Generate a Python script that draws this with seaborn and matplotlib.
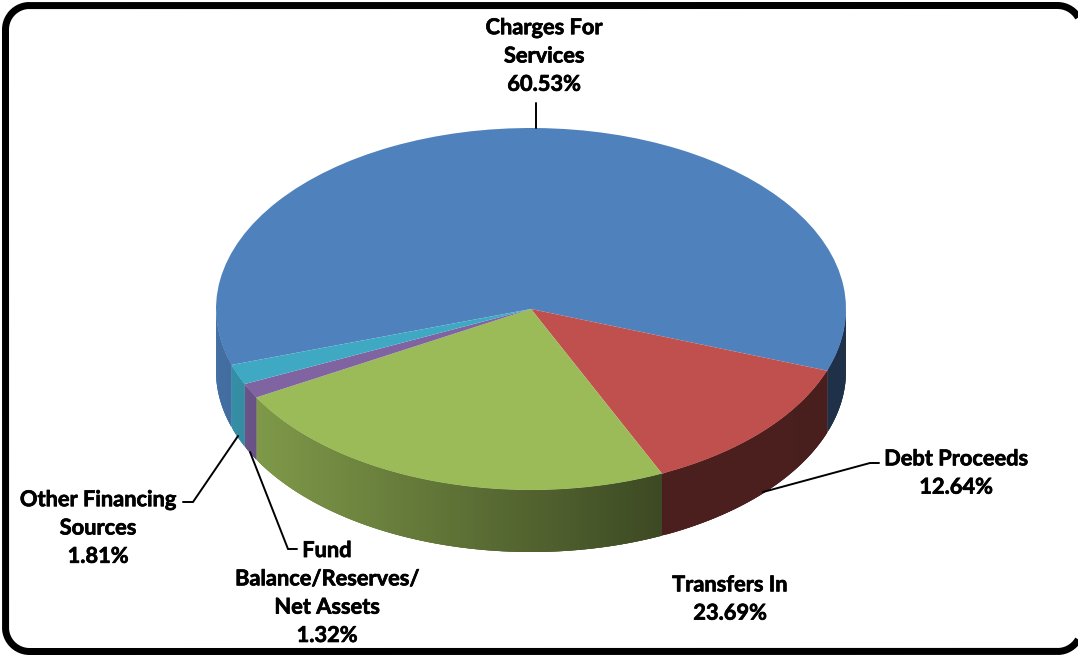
import numpy as np
import matplotlib
matplotlib.use("Agg")
import matplotlib.pyplot as plt
import matplotlib.patheffects as pe
from matplotlib.collections import PolyCollection
import seaborn as sns

categories = ["Charges For\nServices", "Debt Proceeds", "Transfers In",
              "Fund\nBalance/Reserves/\nNet Assets", "Other Financing\nSources"]
shares = [60.53, 12.64, 23.69, 1.32, 1.81]
slice_colors = ["#4F81BD", "#C0504D", "#9BBB59", "#8064A2", "#3FA9C4"]

label_pos = [(544, 56), (956, 473), (730, 599), (327, 593), (98, 528)]
leaders = [[(536, 128), (536, 103)],
           [(763, 492), (870, 463), (879, 463)],
           [],
           [(250, 452), (288, 549), (297, 549)],
           [(238, 436), (193, 502), (183, 502)]]

W, H = 1078, 655
CX, CY, RX, RY, DEPTH = 531, 309, 315, 181, 62

sns.set_theme(style="white")
plt.rcParams["font.family"] = ["Lato", "DejaVu Sans"]
palette = sns.color_palette(slice_colors)

fig = plt.figure(figsize=(W / 100, H / 100), dpi=100, facecolor="white")
ax = fig.add_axes([0, 0, 1, 1])
wedges, _ = ax.pie(shares, colors=palette, startangle=198, counterclock=False,
                   radius=1, wedgeprops=dict(linewidth=0, zorder=5))
ax.set_aspect("auto")
ax.set_xlim(-CX / RX, (W - CX) / RX)
ax.set_ylim(-(H - CY) / RY, CY / RY)
ax.axis("off")

# extruded rim of the pie, shaded left to right (overlapping strips avoid seams)
d = DEPTH / RY
for w, col in zip(wedges, palette):
    t1, t2 = w.theta1 % 360, w.theta2 % 360
    if t2 <= t1:
        t2 += 360
    polys, faces = [], []
    for base in (0, 360):
        a, b = max(t1, 180 + base), min(t2, 360 + base)
        if b <= a:
            continue
        th = np.radians(np.linspace(a, b, max(2, int((b - a) * 2) + 1)))
        for i in range(len(th) - 1):
            p, q = th[i], th[min(i + 3, len(th) - 1)]
            x0, y0, x1, y1 = np.cos(p), np.sin(p), np.cos(q), np.sin(q)
            polys.append([(x0, y0), (x1, y1), (x1, y1 - d), (x0, y0 - d)])
            f = np.interp((x0 + np.cos(th[i + 1])) / 2, [-1, 0.42, 1], [0.86, 0.39, 0.38])
            faces.append(tuple(np.array(col) * f))
    if polys:
        ax.add_collection(PolyCollection(polys, facecolors=faces, edgecolors="none",
                                         linewidths=0, zorder=2))

# overlay in image coordinates: frame, labels, leader lines
ov = fig.add_axes([0, 0, 1, 1], facecolor="none")
ov.set_xlim(0, W)
ov.set_ylim(H, 0)
ov.axis("off")

L, T, R, B, r = 5.5, 5.5, 1081.5, 651.5, 24
def arc(cx, cy, a0, a1):
    t = np.radians(np.linspace(a0, a1, 40))
    return cx + r * np.cos(t), cy + r * np.sin(t)
parts = [arc(R - r, T + r, -30, -90), arc(L + r, T + r, -90, -180),
         arc(L + r, B - r, 180, 90), arc(R - r, B - r, 90, 30)]
fx = np.concatenate([p[0] for p in parts])
fy = np.concatenate([p[1] for p in parts])
ov.plot(fx, fy, color="black", lw=5.04, solid_capstyle="butt", solid_joinstyle="round")

heavy = [pe.withStroke(linewidth=0.5, foreground="black")]
for name, val, pos, seg in zip(categories, shares, label_pos, leaders):
    ov.text(pos[0], pos[1], f"{name}\n{val:.2f}%", ha="center", va="center",
            fontsize=15.7, fontweight="bold", color="black", linespacing=1.43,
            path_effects=heavy)
    if seg:
        xs, ys = zip(*seg)
        ov.plot(xs, ys, color="black", lw=1.4, solid_joinstyle="miter")

fig.savefig("out.png", dpi=100)
